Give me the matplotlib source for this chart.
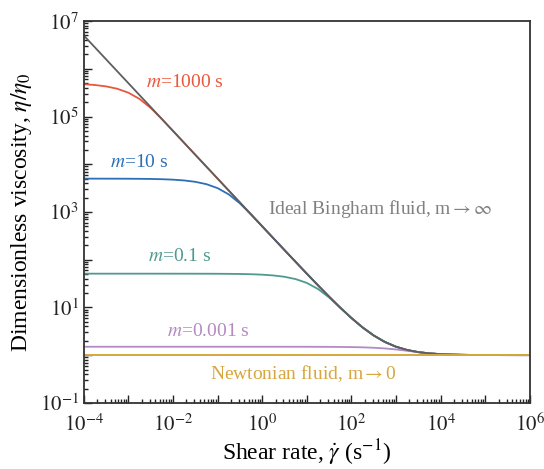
import math
import matplotlib
matplotlib.use('Agg')
import matplotlib.pyplot as plt
from matplotlib.ticker import LogLocator, FuncFormatter, NullFormatter

plt.rcParams['font.family'] = ['Liberation Serif', 'DejaVu Serif']
plt.rcParams['mathtext.fontset'] = 'stix'

# shear rate (1/s), quarter-decade steps
shear = [1e-4, 1.778e-4, 3.162e-4, 5.623e-4,
         1e-3, 1.778e-3, 3.162e-3, 5.623e-3,
         1e-2, 1.778e-2, 3.162e-2, 5.623e-2,
         1e-1, 1.778e-1, 3.162e-1, 5.623e-1,
         1.0, 1.778, 3.162, 5.623,
         10.0, 17.78, 31.62, 56.23,
         100.0, 177.8, 316.2, 562.3,
         1e3, 1.778e3, 3.162e3, 5.623e3,
         1e4, 1.778e4, 3.162e4, 5.623e4,
         1e5, 1.778e5, 3.162e5, 5.623e5, 1e6]

bingham = [5.0e6, 2.812e6, 1.581e6, 8.892e5,
           5.0e5, 2.812e5, 1.581e5, 8.892e4,
           5.0e4, 2.812e4, 1.581e4, 8892.0,
           5001.0, 2813.0, 1582.0, 890.2,
           501.0, 282.2, 159.1, 89.92,
           51.0, 29.12, 16.81, 9.892,
           6.0, 3.812, 2.581, 1.889,
           1.5, 1.281, 1.158, 1.0889,
           1.05, 1.0281, 1.0158, 1.0089,
           1.005, 1.0028, 1.0016, 1.0009, 1.0005]

m1000 = [4.758e5, 4.581e5, 4.287e5, 3.825e5,
         3.161e5, 2.337e5, 1.514e5, 8.860e4,
         5.0e4, 2.812e4, 1.581e4, 8892.0,
         5001.0, 2813.0, 1582.0, 890.2,
         501.0, 282.2, 159.1, 89.92,
         51.0, 29.12, 16.81, 9.892,
         6.0, 3.812, 2.581, 1.889,
         1.5, 1.281, 1.158, 1.0889,
         1.05, 1.0281, 1.0158, 1.0089,
         1.005, 1.0028, 1.0016, 1.0009, 1.0005]

m10 = [4998.5, 4996.6, 4993.1, 4987.0,
       4976.0, 4956.8, 4922.8, 4863.0,
       4759.0, 4582.0, 4288.0, 3825.5,
       3161.6, 2338.0, 1515.0, 887.0,
       501.0, 282.2, 159.1, 89.92,
       51.0, 29.12, 16.81, 9.892,
       6.0, 3.812, 2.581, 1.889,
       1.5, 1.281, 1.158, 1.0889,
       1.05, 1.0281, 1.0158, 1.0089,
       1.005, 1.0028, 1.0016, 1.0009, 1.0005]

m01 = [51.0, 51.0, 51.0, 51.0,
       51.0, 50.996, 50.992, 50.986,
       50.975, 50.956, 50.921, 50.86,
       50.75, 50.56, 50.22, 49.62,
       48.58, 46.81, 43.87, 39.25,
       32.61, 24.37, 16.15, 9.86,
       6.0, 3.812, 2.581, 1.889,
       1.5, 1.281, 1.158, 1.0889,
       1.05, 1.0281, 1.0158, 1.0089,
       1.005, 1.0028, 1.0016, 1.0009, 1.0005]

m0001 = [1.5, 1.5, 1.5, 1.5,
         1.5, 1.5, 1.5, 1.5,
         1.5, 1.5, 1.4999, 1.4999,
         1.4999, 1.4999, 1.4998, 1.4998,
         1.4998, 1.4996, 1.4992, 1.4986,
         1.4975, 1.4956, 1.4922, 1.4862,
         1.4758, 1.4581, 1.4287, 1.3825,
         1.3161, 1.2337, 1.1514, 1.0886,
         1.05, 1.0281, 1.0158, 1.0089,
         1.005, 1.0028, 1.0016, 1.0009, 1.0005]

newtonian = [1.0] * len(shear)

fig = plt.figure(figsize=(5.44, 4.69), dpi=100)
ax = fig.add_axes([0.154, 0.141, 0.82, 0.814])

ax.loglog(shear, m1000, color='#e8583c', lw=1.3)
ax.loglog(shear, m10, color='#2d6fb6', lw=1.3)
ax.loglog(shear, m01, color='#4f9a8e', lw=1.3)
ax.loglog(shear, m0001, color='#b48ac2', lw=1.3)
ax.loglog(shear, bingham, color='#5e5e5e', lw=1.3)
ax.loglog(shear, newtonian, color='#d6a73e', lw=1.4)

ax.set_xlim(1e-4, 1e6)
ax.set_ylim(1e-1, 1e7)

def decade_fmt(parity):
    def f(v, pos):
        e = int(round(math.log10(v)))
        if e % 2 != parity:
            return ''
        return r'$10^{%d}$' % e
    return f

for axis, parity in ((ax.xaxis, 0), (ax.yaxis, 1)):
    axis.set_major_locator(LogLocator(base=10, numticks=20))
    axis.set_minor_locator(LogLocator(base=10, subs=range(2, 10), numticks=20))
    axis.set_major_formatter(FuncFormatter(decade_fmt(parity)))
    axis.set_minor_formatter(NullFormatter())

ax.tick_params(which='both', direction='in', top=False, right=False,
               labelsize=15, colors='#222222', width=1.0)
ax.tick_params(which='major', length=6)
ax.tick_params(which='minor', length=3)
ax.tick_params(axis='x', pad=8)
for s in ax.spines.values():
    s.set_color('#333333')
    s.set_linewidth(1.3)

ax.set_xlabel(r'Shear rate, $\dot{\gamma}$ (s$^{-1}$)', fontsize=17, labelpad=1)
ax.set_ylabel(r'Dimensionless viscosity, $\eta/\eta_0$', fontsize=17)

ax.text(2.45e-3, 5.2e5, r'$m$=1000 s', color='#e8583c', fontsize=14, va='center')
ax.text(3.8e-4, 1.07e4, r'$m$=10 s', color='#2d6fb6', fontsize=14, va='center')
ax.text(1.34, 1.15e3, r'Ideal Bingham fluid, m$\rightarrow\infty$', color='#808080', fontsize=14, va='center')
ax.text(2.7e-3, 114, r'$m$=0.1 s', color='#4f9a8e', fontsize=14, va='center')
ax.text(7.3e-3, 3.2, r'$m$=0.001 s', color='#b48ac2', fontsize=14, va='center')
ax.text(0.067, 0.42, r'Newtonian fluid, m$\rightarrow$0', color='#d6a73e', fontsize=14, va='center')

fig.savefig('out.png', dpi=100)
